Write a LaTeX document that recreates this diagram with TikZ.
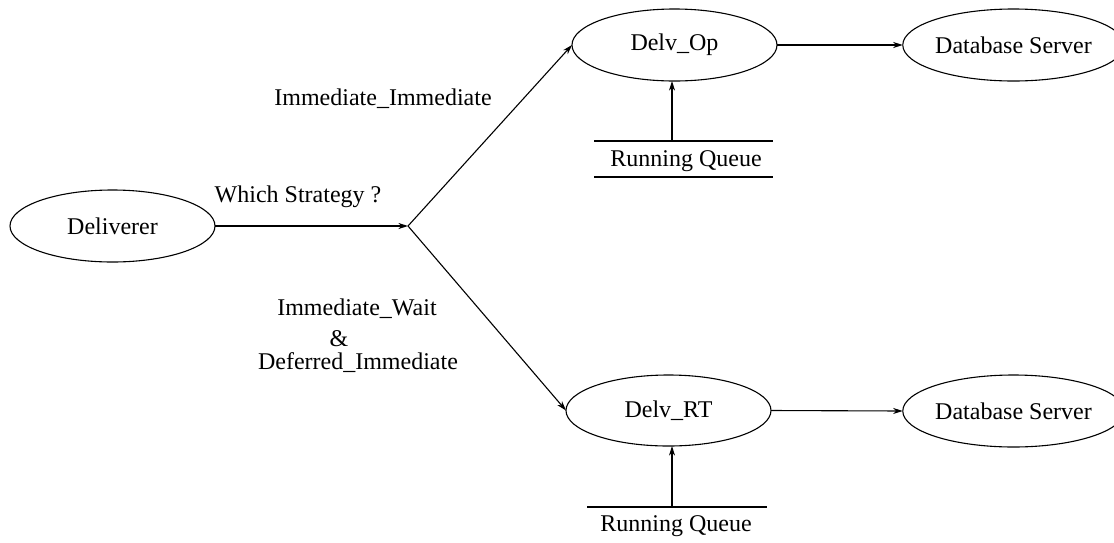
\documentclass[tikz,border=0pt]{standalone}
\usepackage{fontspec}
\setmainfont{Liberation Serif}
\usetikzlibrary{shapes.geometric,arrows.meta}
\begin{document}
\begin{tikzpicture}[x=0.5pt,y=-0.5pt,
  every node/.style={font=\fontsize{12}{14}\selectfont},
  ell/.style={draw,ellipse,inner sep=0pt,outer sep=0pt,line width=0.55pt},
  lbl/.style={inner sep=0pt,anchor=base},
  arr/.style={line width=0.55pt,-{Stealth[length=4.8pt,width=3pt,inset=1.4pt]}},
  bar/.style={line width=0.55pt}]
\useasboundingbox (0,0) rectangle (1114,542);
% ellipses
\node[ell,minimum width=102.5pt,minimum height=36pt] (deliv) at (112.5,226) {Deliverer};
\node[ell,minimum width=102.5pt,minimum height=36pt] (delvop) at (674.5,45) {Delv\_Op};
\node[ell,minimum width=102.5pt,minimum height=35.5pt] (delvrt) at (668.5,410.5) {Delv\_RT};
\node[ell,minimum width=98.5pt,minimum height=36pt] (dbtop) at (1013.5,45) {Database Server};
\node[ell,minimum width=98.5pt,minimum height=36pt] (dbbot) at (1013.5,411) {Database Server};
% branch point
\coordinate (br) at (408,226);
% labels
\node[lbl] (ws) at (298,202) {Which Strategy ?};
\node[lbl] (ii) at (383,105) {Immediate\_Immediate};
\node[lbl] (iw) at (357,315) {Immediate\_Wait};
\node[lbl] (amp) at (339,346) {\&};
\node[lbl] (di) at (358,369) {Deferred\_Immediate};
% running queues
\node[lbl] (rq1) at (686,166) {Running Queue};
\node[lbl] (rq2) at (676,531) {Running Queue};
\coordinate (q1a) at (594,141);
\coordinate (q1b) at (773,141);
\coordinate (q1c) at (594,177);
\coordinate (q1d) at (773,177);
\coordinate (q2a) at (587,507);
\coordinate (q2b) at (767,507);
\coordinate (qa) at (672,141);
\coordinate (qb) at (672,507);
\draw[bar] (q1a) -- (q1b);
\draw[bar] (q1c) -- (q1d);
\draw[bar] (q2a) -- (q2b);
% connectors
\draw[arr] (deliv.east) -- (br);
\draw[arr] (br) -- (delvop.west);
\draw[arr] (br) -- (delvrt.west);
\draw[arr] (delvop.east) -- (dbtop.west);
\draw[arr] (delvrt.east) -- (dbbot.west);
\draw[arr] (qa) -- (qa |- delvop.south);
\draw[arr] (qb) -- (qb |- delvrt.south);
\end{tikzpicture}
\end{document}
